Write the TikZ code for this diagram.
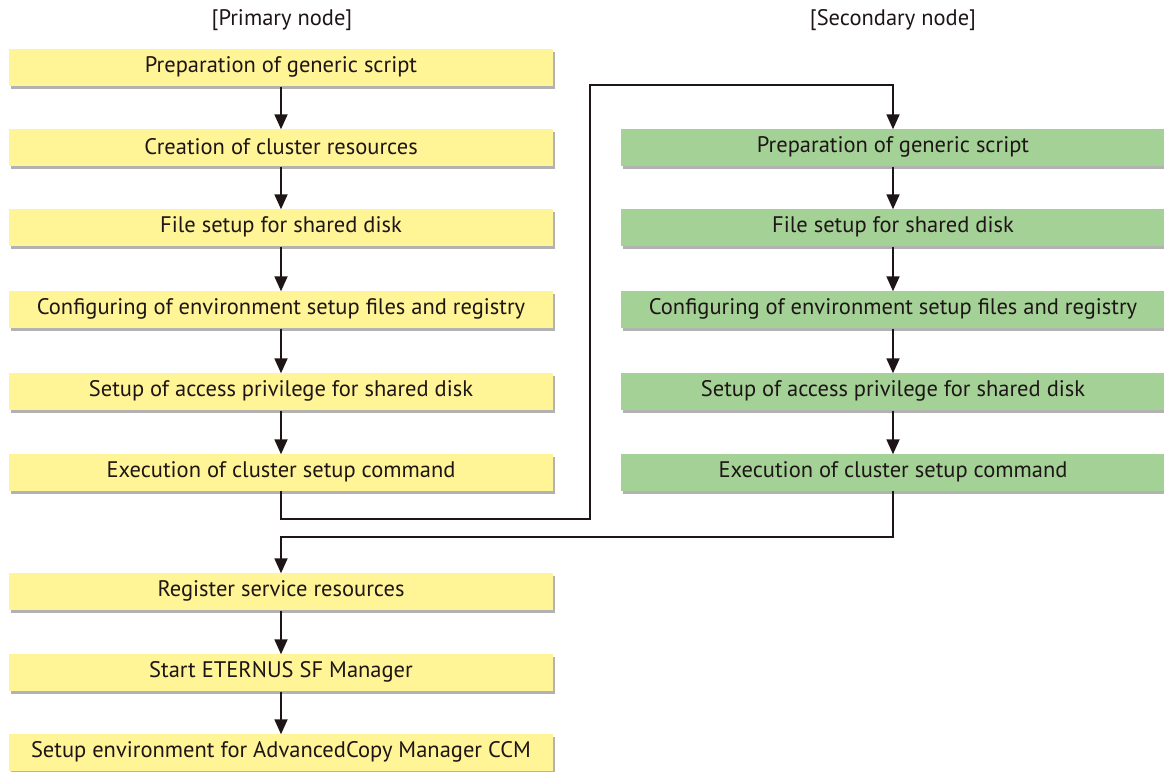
\documentclass[tikz,border=0pt]{standalone}
\usepackage{fontspec}
\setmainfont{PT Sans}
\usetikzlibrary{arrows.meta,shadows}
\definecolor{pyellow}{RGB}{255,244,150}
\definecolor{sgreen}{RGB}{163,209,150}
\definecolor{lnk}{RGB}{30,22,22}
\tikzset{
  stepbox/.style={rectangle, minimum width=544pt, minimum height=37pt, inner sep=0pt,
    font=\fontsize{22.5}{25}\selectfont, text=lnk,
    drop shadow={shadow xshift=2pt, shadow yshift=-3pt, fill=black, opacity=0.3}},
  prim/.style={stepbox, fill=pyellow},
  sec/.style={stepbox, fill=sgreen},
  arr/.style={draw=lnk, line width=1.8pt, -{Triangle[width=13pt,length=15pt]}},
  hdr/.style={font=\fontsize{22.5}{25}\selectfont, text=lnk}
}
\begin{document}
\begin{tikzpicture}[x=1pt,y=-1pt]
\useasboundingbox (0,0) rectangle (1164,771);
\node[hdr] (h1) at (282,20) {[Primary node]};
\node[hdr] (h2) at (893,20) {[Secondary node]};

\node[prim] (p1) at (281,67) {Preparation of generic script};
\node[prim] (p2) at (281,147) {Creation of cluster resources};
\node[prim] (p3) at (281,227) {File setup for shared disk};
\node[prim] (p4) at (281,309) {Configuring of environment setup files and registry};
\node[prim] (p5) at (281,391) {Setup of access privilege for shared disk};
\node[prim] (p6) at (281,472) {Execution of cluster setup command};
\node[prim] (p7) at (281,591) {Register service resources};
\node[prim] (p8) at (281,672) {Start ETERNUS SF Manager};
\node[prim] (p9) at (281,752) {Setup environment for AdvancedCopy Manager CCM};

\node[sec] (s1) at (893,147) {Preparation of generic script};
\node[sec] (s2) at (893,227) {File setup for shared disk};
\node[sec] (s3) at (893,309) {Configuring of environment setup files and registry};
\node[sec] (s4) at (893,391) {Setup of access privilege for shared disk};
\node[sec] (s5) at (893,472) {Execution of cluster setup command};

\foreach \a/\b in {p1/p2,p2/p3,p3/p4,p4/p5,p5/p6,p7/p8,p8/p9,s1/s2,s2/s3,s3/s4,s4/s5}
  \draw[arr] ([yshift=-1pt]\a.south) -- ([yshift=-1pt]\b.north);

\coordinate (j1) at (590,519);
\coordinate (j2) at (590,85);
\coordinate (j3) at (281,537);
\draw[arr] (p6.south) |- (j1) -- (j2) -| ([yshift=-1pt]s1.north);
\draw[arr] (s5.south) |- (j3) -- ([yshift=-1pt]p7.north);
\end{tikzpicture}
\end{document}
